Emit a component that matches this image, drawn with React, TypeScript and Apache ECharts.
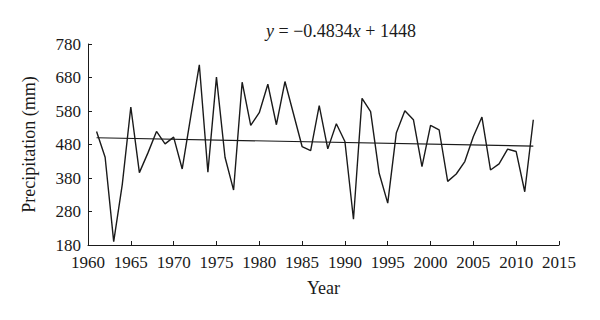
import React, { useEffect, useRef } from "react";
import * as echarts from "echarts";

const years: number[] = [
  1961, 1962, 1963, 1964, 1965, 1966, 1967, 1968, 1969, 1970,
  1971, 1972, 1973, 1974, 1975, 1976, 1977, 1978, 1979, 1980,
  1981, 1982, 1983, 1984, 1985, 1986, 1987, 1988, 1989, 1990,
  1991, 1992, 1993, 1994, 1995, 1996, 1997, 1998, 1999, 2000,
  2001, 2002, 2003, 2004, 2005, 2006, 2007, 2008, 2009, 2010,
  2011, 2012,
];

const precipitation: number[] = [
  519, 442, 190, 360, 592, 396, 455, 519, 482, 502,
  407, 564, 718, 397, 681, 442, 344, 666, 537, 575,
  660, 539, 668, 571, 474, 462, 596, 467, 542, 489,
  257, 618, 578, 394, 305, 514, 581, 554, 414, 537,
  524, 370, 392, 429, 504, 562, 404, 422, 466, 459,
  339, 554,
];

// Trend line end points (y = -0.4834x + 1448)
const trendYears: number[] = [1961, 2012];
const trendValues: number[] = [500.1, 475.4];

const FONT = "'Liberation Serif', 'DejaVu Serif', serif";
const INK = "#1a1a1a";

export default function App() {
  const ref = useRef<HTMLDivElement>(null);

  useEffect(() => {
    if (!ref.current) return;
    const chart = echarts.init(ref.current, undefined, { renderer: "svg" });
    chart.setOption({
      animation: false,
      backgroundColor: "#ffffff",
      title: {
        text: "{i|y} = −0.4834{i|x} + 1448",
        left: 336,
        top: 17,
        textAlign: "center",
        textStyle: {
          fontFamily: FONT,
          fontSize: 18,
          fontWeight: "normal",
          color: INK,
          rich: {
            i: { fontFamily: FONT, fontSize: 18, fontStyle: "italic", color: INK },
          },
        },
      },
      grid: { left: 88, right: 41, top: 44, bottom: 75, containLabel: false },
      xAxis: {
        type: "value",
        min: 1960,
        max: 2015,
        interval: 5,
        name: "Year",
        nameLocation: "middle",
        nameGap: 34,
        nameTextStyle: { fontFamily: FONT, fontSize: 18, color: INK },
        axisLine: { show: true, lineStyle: { color: INK, width: 1 } },
        axisTick: { show: true, inside: true, length: 4, lineStyle: { color: INK } },
        axisLabel: {
          fontFamily: FONT,
          fontSize: 17,
          lineHeight: 17,
          color: INK,
          margin: 9,
          formatter: (v: number) => String(v),
        },
        splitLine: { show: false },
      },
      yAxis: {
        type: "value",
        min: 180,
        max: 780,
        interval: 100,
        name: "Precipitation (mm)",
        nameLocation: "middle",
        nameGap: 50,
        nameTextStyle: { fontFamily: FONT, fontSize: 18, color: INK },
        axisLine: { show: true, lineStyle: { color: INK, width: 1 } },
        axisTick: { show: true, inside: true, length: 4, lineStyle: { color: INK } },
        axisLabel: { fontFamily: FONT, fontSize: 17, lineHeight: 14, color: INK, margin: 7 },
        splitLine: { show: false },
      },
      series: [
        {
          type: "line",
          data: years.map((y, i) => [y, precipitation[i]]),
          showSymbol: false,
          symbol: "none",
          lineStyle: { color: INK, width: 1.4 },
          z: 3,
        },
        {
          type: "line",
          data: trendYears.map((y, i) => [y, trendValues[i]]),
          showSymbol: false,
          symbol: "none",
          lineStyle: { color: INK, width: 1.2 },
          z: 2,
        },
      ],
    });
    return () => chart.dispose();
  }, []);

  return (
    <div
      ref={ref}
      style={{ position: "fixed", left: 0, top: 0, width: 600, height: 320 }}
    />
  );
}
